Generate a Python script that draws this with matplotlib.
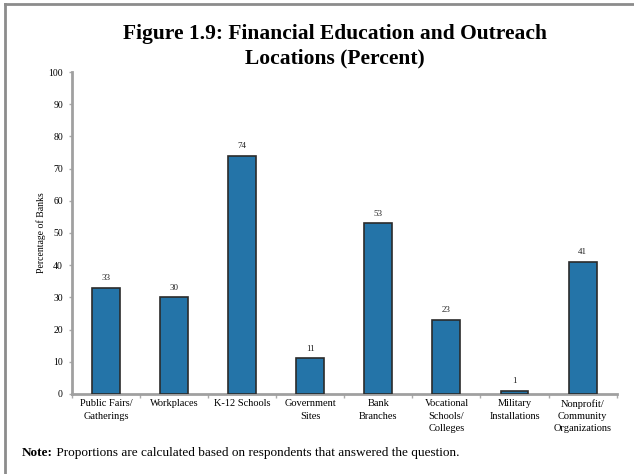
import numpy as np
import matplotlib.pyplot as plt
from matplotlib.lines import Line2D

# survey results: share of banks offering outreach at each location
locations = ["Public Fairs/\nGatherings", "Workplaces", "K-12 Schools",
             "Government\nSites", "Bank\nBranches", "Vocational\nSchools/\nColleges",
             "Military\nInstallations", "Nonprofit/\nCommunity\nOrganizations"]
percent = [33, 30, 74, 11, 53, 23, 1, 41]
y_ticks = [0, 10, 20, 30, 40, 50, 60, 70, 80, 90, 100]

plt.rcParams['font.family'] = ['Liberation Serif', 'DejaVu Serif']

fig = plt.figure(figsize=(6.34, 4.74), dpi=100)
ax = fig.add_axes([0.1136, 0.169, 0.859, 0.679])

x = np.arange(len(locations))
ax.bar(x, percent, width=0.41, color='#2474a8', edgecolor='#2b2b2b', linewidth=1.2, zorder=3)
for xi, v in zip(x, percent):
    ax.text(xi, v + 1.8, str(v), ha='center', va='bottom', fontsize=6.5, color='#222222')

ax.set_xlim(-0.5, len(locations) - 0.5)
ax.set_ylim(0, 100)
ax.set_yticks(y_ticks)
ax.tick_params(axis='y', labelsize=7, length=2.5, width=1, color='#aaaaaa', pad=4)

# category labels centred under bars, tick marks between them
ax.set_xticks(x)
ax.set_xticklabels(locations, fontsize=7.5, linespacing=1.45)
ax.tick_params(axis='x', length=0, pad=4)
ax.set_xticks(np.arange(-0.5, len(locations)), minor=True)
ax.tick_params(axis='x', which='minor', length=3, width=1, color='#aaaaaa')

for side in ['top', 'right']:
    ax.spines[side].set_visible(False)
for side in ['left', 'bottom']:
    ax.spines[side].set_color('#a0a0a0')
    ax.spines[side].set_linewidth(2)

ax.set_ylabel("Percentage of Banks", fontsize=7, labelpad=2)

fig.text(0.528, 0.902, "Figure 1.9: Financial Education and Outreach\nLocations (Percent)",
         ha='center', va='center', fontsize=15.5, fontweight='bold', linespacing=1.3)

# bold "Note:" followed by the plain sentence
note = fig.text(0.035, 0.038, "Note:", fontsize=9.5, fontweight='bold', va='baseline')
fig.add_artist(plt.Annotation(" Proportions are calculated based on respondents that answered the question.",
                              xy=(1, 0), xycoords=note, fontsize=9.5, va='bottom', ha='left',
                              annotation_clip=False))

# grey frame lines along top and left edges
fig.add_artist(Line2D([0.008, 0.998], [0.992, 0.992], transform=fig.transFigure, color='#8c8c8c', lw=2))
fig.add_artist(Line2D([0.008, 0.008], [0.0, 0.992], transform=fig.transFigure, color='#8c8c8c', lw=2))

fig.savefig("out.png", dpi=100)
